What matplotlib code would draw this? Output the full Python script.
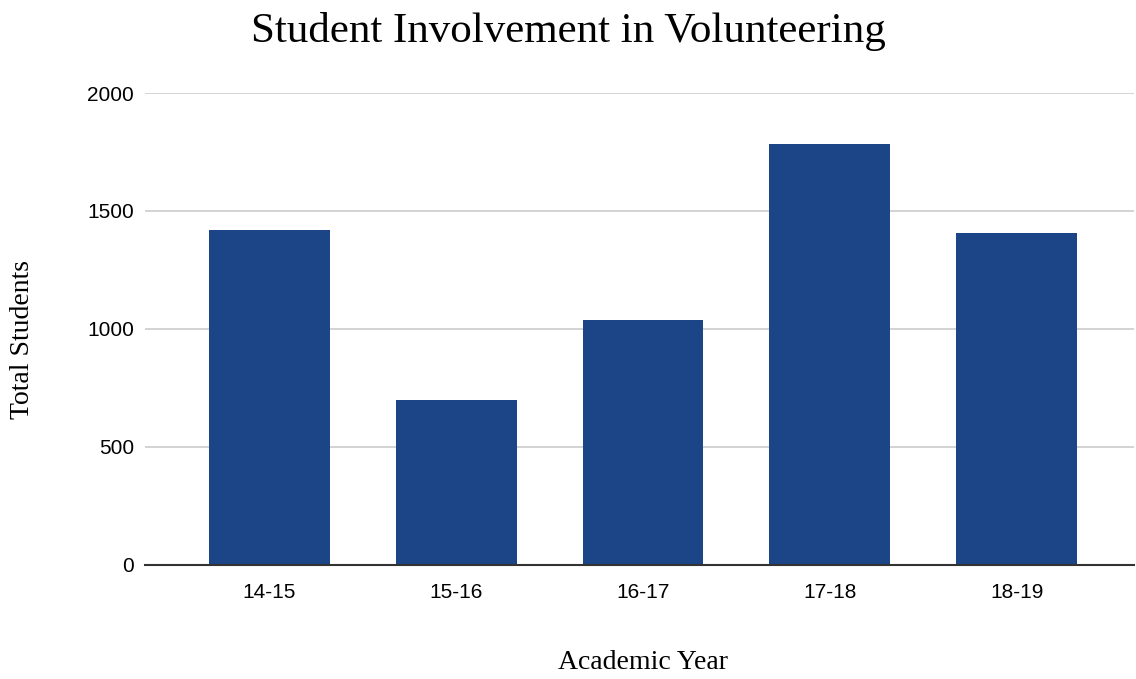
import matplotlib
matplotlib.use('Agg')
import matplotlib.pyplot as plt

# data
years = ['14-15', '15-16', '16-17', '17-18', '18-19']
students = [1420, 700, 1040, 1785, 1405]
yticks = [0, 500, 1000, 1500, 2000]

fig = plt.figure(figsize=(11.36, 6.79), dpi=100)
ax = fig.add_axes([0.1276, 0.168, 0.871, 0.695])

x = range(len(years))
ax.bar(x, students, width=0.647, color='#1c4587', zorder=3)

ax.set_xlim(-0.666, 4.63)
ax.set_ylim(0, 2000)
ax.set_xticks(list(x))
ax.set_xticklabels(years, fontsize=15, family='Liberation Sans')
ax.set_yticks(yticks)
ax.set_yticklabels([str(v) for v in yticks], fontsize=15, family='Liberation Sans')
ax.tick_params(axis='x', length=0, pad=13)
ax.tick_params(axis='y', length=0, pad=8)

ax.grid(axis='y', color='#cccccc', linewidth=1.2, zorder=0)
for s in ['top', 'right', 'left']:
    ax.spines[s].set_visible(False)
ax.spines['bottom'].set_color('#333333')
ax.spines['bottom'].set_linewidth(1.5)
ax.spines['bottom'].set_zorder(4)

fig.text(0.5, 0.953, 'Student Involvement in Volunteering', ha='center', va='center',
         fontsize=31, family='Liberation Serif')
fig.text(0.566, 0.025, 'Academic Year', ha='center', va='center',
         fontsize=20, family='Liberation Serif')
fig.text(0.02, 0.5, 'Total Students', ha='center', va='center', rotation=90,
         fontsize=20, family='Liberation Serif')

fig.savefig('out.png', dpi=100, facecolor='white')
